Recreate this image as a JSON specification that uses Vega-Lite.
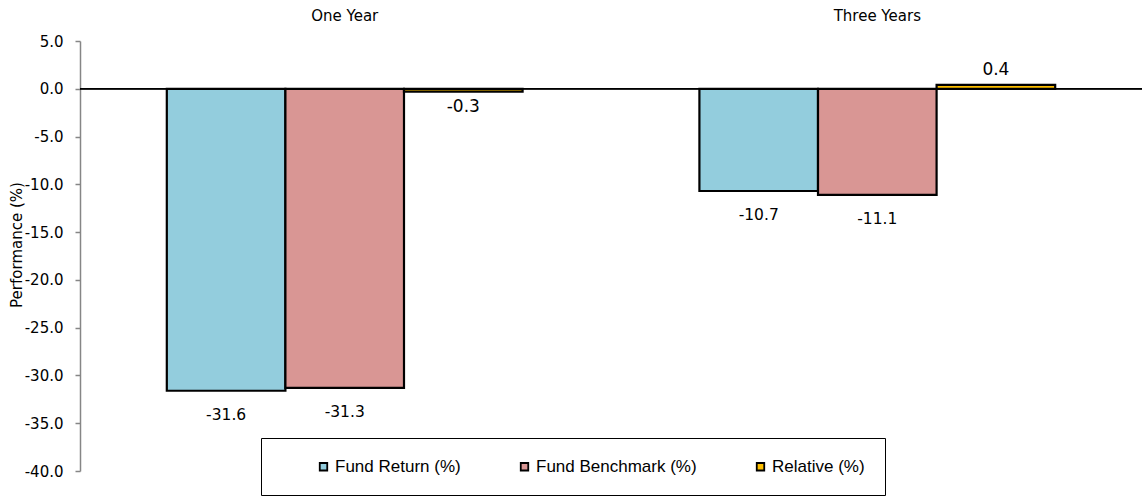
{
  "$schema": "https://vega.github.io/schema/vega-lite/v6.json",
  "width": 1062,
  "height": 430,
  "autosize": "none",
  "padding": {"left": 80, "top": 41, "right": 0, "bottom": 27},
  "background": "white",
  "config": {
    "view": {"stroke": null},
    "font": "DejaVu Sans",
    "locale": {
      "number": {"decimal": ".", "thousands": ",", "grouping": [3], "currency": ["$", ""], "minus": "-"}
    },
    "axisY": {
      "grid": false,
      "domainColor": "#868686",
      "domainWidth": 1.5,
      "tickColor": "#868686",
      "tickWidth": 1.5,
      "tickSize": 5,
      "labelFont": "DejaVu Sans",
      "labelFontSize": 15,
      "labelColor": "black",
      "labelPadding": 12,
      "titleFont": "DejaVu Sans",
      "titleFontSize": 15,
      "titleFontWeight": "normal",
      "titleColor": "black",
      "titleAngle": 270,
      "titleAlign": "center",
      "titleBaseline": "middle",
      "titleX": -64,
      "titleY": 203.5
    }
  },
  "data": {
    "values": [
      {"period": "One Year", "series": "Fund Return (%)", "value": -31.6},
      {"period": "One Year", "series": "Fund Benchmark (%)", "value": -31.3},
      {"period": "One Year", "series": "Relative (%)", "value": -0.3},
      {"period": "Three Years", "series": "Fund Return (%)", "value": -10.7},
      {"period": "Three Years", "series": "Fund Benchmark (%)", "value": -11.1},
      {"period": "Three Years", "series": "Relative (%)", "value": 0.4}
    ]
  },
  "layer": [
    {
      "mark": {"type": "rule", "color": "black", "strokeWidth": 1},
      "encoding": {
        "y": {
          "datum": 0,
          "type": "quantitative",
          "scale": {"domain": [-40, 5], "nice": false, "zero": false},
          "axis": {
            "title": "Performance (%)",
            "values": [-40, -35, -30, -25, -20, -15, -10, -5, 0, 5],
            "format": ".1f"
          }
        }
      }
    },
    {
      "encoding": {
        "x": {
          "field": "period",
          "type": "nominal",
          "sort": ["One Year", "Three Years"],
          "scale": {"paddingInner": 0.332, "paddingOuter": 0.163},
          "axis": {
            "orient": "top",
            "title": null,
            "domain": false,
            "ticks": false,
            "labelAngle": 0,
            "labelFont": "DejaVu Sans",
            "labelFontSize": 15,
            "labelColor": "black",
            "labelPadding": 18
          }
        },
        "xOffset": {
          "field": "series",
          "type": "nominal",
          "sort": ["Fund Return (%)", "Fund Benchmark (%)", "Relative (%)"],
          "scale": {"paddingInner": 0, "paddingOuter": 0}
        },
        "y": {
          "field": "value",
          "type": "quantitative",
          "scale": {"domain": [-40, 5], "nice": false, "zero": false},
          "axis": {
            "title": "Performance (%)",
            "values": [-40, -35, -30, -25, -20, -15, -10, -5, 0, 5],
            "format": ".1f"
          }
        }
      },
      "layer": [
        {
          "mark": {"type": "bar", "stroke": "black", "strokeWidth": 2.2},
          "encoding": {
            "color": {
              "field": "series",
              "type": "nominal",
              "sort": ["Fund Return (%)", "Fund Benchmark (%)", "Relative (%)"],
              "scale": {
                "domain": ["Fund Return (%)", "Fund Benchmark (%)", "Relative (%)"],
                "range": ["#93CDDD", "#D99694", "#FFC000"]
              },
              "legend": {
                "title": null,
                "orient": "none",
                "legendX": 181,
                "legendY": 397,
                "direction": "horizontal",
                "strokeColor": "black",
                "fillColor": "white",
                "padding": 20,
                "columnPadding": 21,
                "symbolType": "square",
                "symbolSize": 56,
                "symbolStrokeColor": "black",
                "symbolStrokeWidth": 1.8,
                "symbolOffset": 34,
                "labelFont": "Liberation Sans",
                "labelFontSize": 17,
                "labelOffset": 3,
                "labelColor": "black",
                "labelLimit": 300,
                "labelExpr": "datum.label === 'Relative (%)' ? datum.label + '\u2003\u2003\u2003\u2002' : datum.label"
              }
            }
          }
        },
        {
          "transform": [{"filter": "datum.series !== 'Relative (%)'"}],
          "mark": {"type": "text", "baseline": "middle", "align": "center", "dy": 24, "fontSize": 15.5, "font": "DejaVu Sans", "color": "black"},
          "encoding": {"text": {"field": "value", "type": "quantitative", "format": ".1f"}}
        },
        {
          "transform": [{"filter": "datum.series === 'Relative (%)' && datum.value < 0"}],
          "mark": {"type": "text", "baseline": "middle", "align": "center", "dy": 15, "fontSize": 17, "font": "DejaVu Sans", "color": "black"},
          "encoding": {"text": {"field": "value", "type": "quantitative", "format": ".1f"}}
        },
        {
          "transform": [{"filter": "datum.series === 'Relative (%)' && datum.value >= 0"}],
          "mark": {"type": "text", "baseline": "middle", "align": "center", "dy": -15, "fontSize": 17, "font": "DejaVu Sans", "color": "black"},
          "encoding": {"text": {"field": "value", "type": "quantitative", "format": ".1f"}}
        }
      ]
    }
  ]
}
